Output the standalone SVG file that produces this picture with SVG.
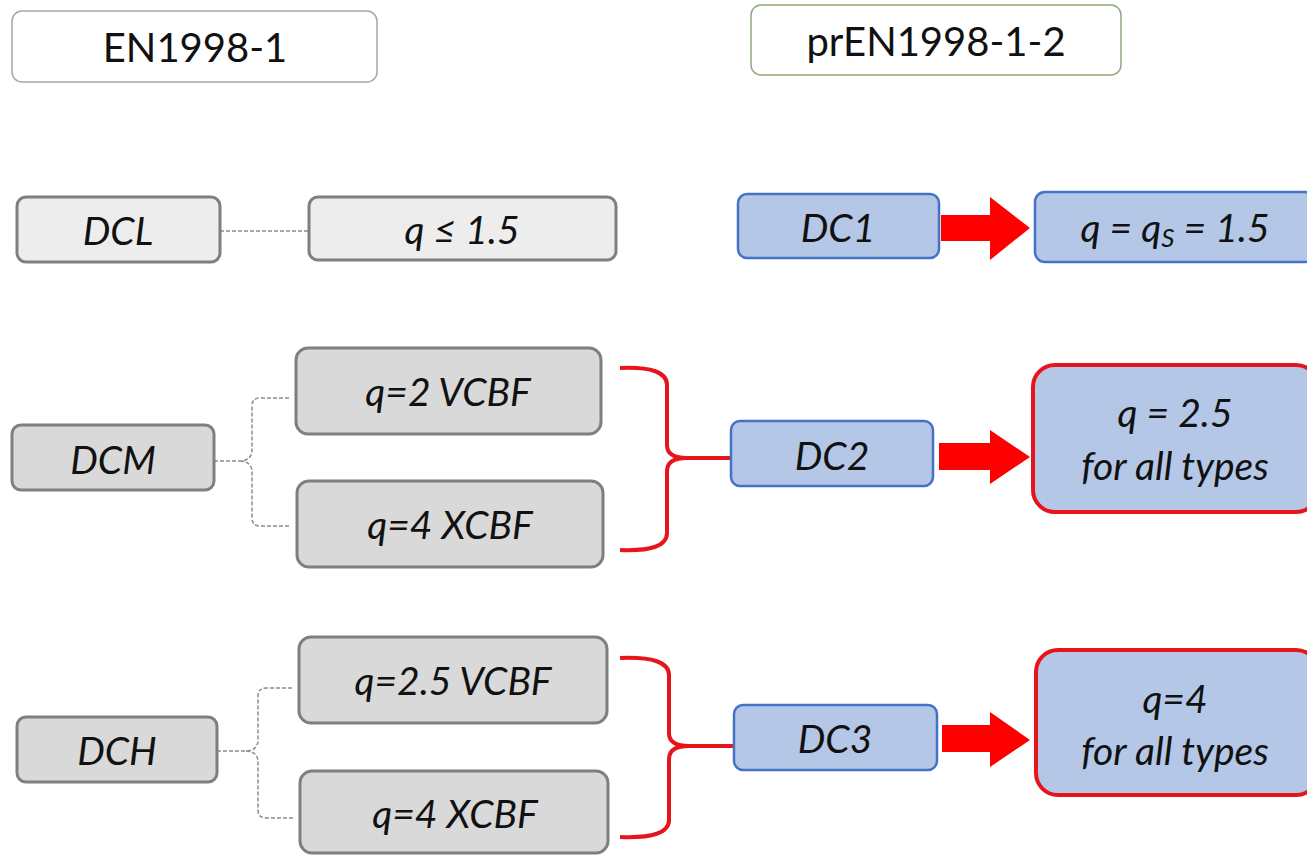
<svg xmlns="http://www.w3.org/2000/svg" width="1307" height="857" viewBox="0 0 1307 857">
<style>
text{font-family:Lato,"Open Sans","Liberation Sans",sans-serif;text-anchor:middle;dominant-baseline:central;fill:#111}
.hdr{font-size:40px}
.it{font-style:italic;font-size:39px}
.lt{fill:#ededed;stroke:#7f7f7f;stroke-width:3}
.dk{fill:#d9d9d9;stroke:#7f7f7f;stroke-width:3}
.bl{fill:#b4c7e7;stroke:#4472c4;stroke-width:2.5}
.rd{fill:#b4c7e7;stroke:#e8141c;stroke-width:4}
.dash{fill:none;stroke:#8c8c8c;stroke-width:1.5;stroke-dasharray:4 2}
.brace{fill:none;stroke:#e8141c;stroke-width:4}
.arr{fill:#ff0000}
</style>
<rect width="1307" height="857" fill="#fff"/>
<g id="connectors">
<path class="dash" d="M220 231 H309"/>
<path class="dash" d="M214 461 H240 Q250 461 252 452 V406 Q252 398 260 398 H290 M240 461 Q250 461 252 470 V518 Q252 526 260 526 H290"/>
<path class="dash" d="M217 751 H246 Q256 751 258 742 V696 Q258 688 266 688 H292 M246 751 Q256 751 258 760 V810 Q258 818 266 818 H294"/>
<path class="brace" d="M620 368 Q667 366 667 385 V445 Q667 458 687 458 H740 M687 458 Q667 458 667 471 V533 Q667 552 620 550"/>
<path class="brace" d="M620 658 Q669 656 669 675 V733 Q669 746 689 746 H742 M689 746 Q669 746 669 759 V820 Q669 839 620 837"/>
<path class="arr" d="M941 215 H990 V197 L1030 228 L990 260 V241 H941 Z"/>
<path class="arr" d="M939 443 H990 V430 L1030 457 L990 484 V470 H939 Z"/>
<path class="arr" d="M942 725 H990 V712 L1030 740 L990 767 V752 H942 Z"/>
</g>
<g id="n-en1998"><rect x="12" y="11" width="365" height="71" rx="10" fill="#fff" stroke="#a6a6a6" stroke-width="1.5"/><text class="hdr" x="195" y="47">EN1998-1</text></g>
<g id="n-pren"><rect x="751" y="5" width="370" height="70" rx="10" fill="#fff" stroke="#8faa72" stroke-width="1.5"/><text class="hdr" x="936" y="41">prEN1998-1-2</text></g>
<g id="n-dcl"><rect class="lt" x="17" y="197" width="203" height="65" rx="9"/><text class="it" x="118" y="230">DCL</text></g>
<g id="n-qdcl"><rect class="lt" x="309" y="197" width="307" height="63" rx="9"/><text class="it" x="462" y="229">q ≤ 1.5</text></g>
<g id="n-dc1"><rect class="bl" x="738" y="194" width="201" height="64" rx="9"/><text class="it" x="838" y="227">DC1</text></g>
<g id="n-qdc1"><rect class="bl" x="1035" y="192" width="280" height="70" rx="10"/><text class="it" x="1175" y="227">q = q<tspan font-size="26" dy="10">S</tspan><tspan dy="-10"> = 1.5</tspan></text></g>
<g id="n-dcm"><rect class="dk" x="12" y="425" width="202" height="65" rx="9"/><text class="it" x="113" y="459">DCM</text></g>
<g id="n-q2v"><rect class="dk" x="296" y="348" width="305" height="86" rx="12"/><text class="it" x="448" y="391">q=2 VCBF</text></g>
<g id="n-q4x1"><rect class="dk" x="297" y="481" width="306" height="86" rx="12"/><text class="it" x="450" y="524">q=4 XCBF</text></g>
<g id="n-dc2"><rect class="bl" x="731" y="421" width="202" height="65" rx="9"/><text class="it" x="832" y="455">DC2</text></g>
<g id="n-q25"><rect class="rd" x="1033" y="365" width="285" height="147" rx="22"/><text class="it" x="1175" y="412">q = 2.5</text><text class="it" x="1175" y="465">for all types</text></g>
<g id="n-dch"><rect class="dk" x="17" y="717" width="200" height="65" rx="9"/><text class="it" x="117" y="750">DCH</text></g>
<g id="n-q25v"><rect class="dk" x="299" y="637" width="308" height="86" rx="12"/><text class="it" x="453" y="680">q=2.5 VCBF</text></g>
<g id="n-q4x2"><rect class="dk" x="300" y="771" width="308" height="82" rx="12"/><text class="it" x="455" y="813">q=4 XCBF</text></g>
<g id="n-dc3"><rect class="bl" x="734" y="705" width="203" height="65" rx="9"/><text class="it" x="835" y="738">DC3</text></g>
<g id="n-q4"><rect class="rd" x="1036" y="650" width="282" height="145" rx="22"/><text class="it" x="1175" y="698">q=4</text><text class="it" x="1175" y="750">for all types</text></g>
</svg>
